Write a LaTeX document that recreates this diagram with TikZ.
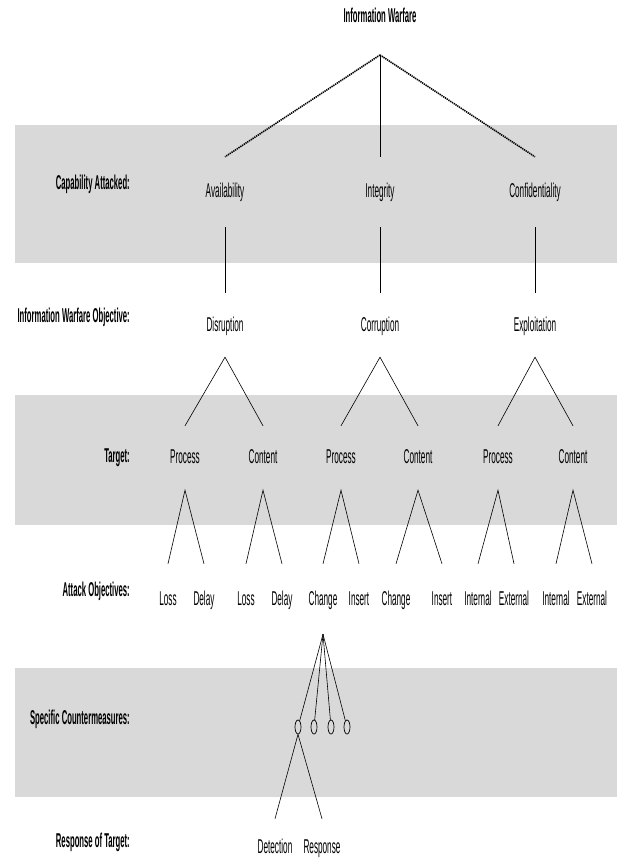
\documentclass[tikz,border=0pt]{standalone}
\usepackage{fontspec}
\setmainfont{Liberation Sans}[FakeStretch=0.41, BoldFeatures={FakeStretch=0.385}]
\usepackage{tikz}
\usetikzlibrary{shapes.geometric}

\tikzset{
  band/.style={fill=black!15, draw=none},
  rowlbl/.style={anchor=east, inner sep=0pt, font=\bfseries\fontsize{20}{22}\selectfont},
  lbl/.style={inner sep=0pt, text height=14pt, text depth=4pt, font=\fontsize{20}{22}\selectfont},
  heavy/.style={line width=1.6pt, dash pattern=on 1.3pt off 0.8pt},
  link/.style={line width=0.6pt},
  cmoval/.style={draw, ellipse, inner sep=0pt, minimum width=6pt, minimum height=14pt, line width=0.7pt},
}

\begin{document}
\begin{tikzpicture}[x=1pt, y=-1pt]
     \useasboundingbox (0,0) rectangle (617,863);
     % grey bands
     \fill [band] (15,125) rectangle (617,263);
     \fill [band] (15,395) rectangle (617,525);
     \fill [band] (15,668) rectangle (617,797);

     % row titles
     \node[rowlbl] (r1) at (130,184) {Capability Attacked:};
     \node[rowlbl] (r2) at (130,317) {Information Warfare Objective:};
     \node[rowlbl] (r3) at (130,458) {Target:};
     \node[rowlbl] (r4) at (130,591) {Attack Objectives:};
     \node[rowlbl] (r5) at (130,719) {Specific Countermeasures:};
     \node[rowlbl] (r6) at (130,842) {Response of Target:};

     % tree
     \node[lbl, font=\bfseries\fontsize{20}{22}\selectfont] (iw) at (380,17) {Information Warfare};
     \coordinate (iw-v) at (380,55);

     \node[lbl] (avail) at (225,192) {Availability};
     \node[lbl] (integ) at (380,192) {Integrity};
     \node[lbl] (conf) at (535,192) {Confidentiality};

     \draw[heavy] (iw-v) -- ([yshift=26pt]avail.north);
     \draw[link] (iw-v) -- ([yshift=26pt]integ.north);
     \draw[heavy] (iw-v) -- ([yshift=26pt]conf.north);

     \node[lbl] (disr) at (225,326) {Disruption};
     \node[lbl] (corr) at (380,326) {Corruption};
     \node[lbl] (expl) at (535,326) {Exploitation};

     \draw[link, shorten <=26pt, shorten >=24pt] (avail) -- (disr);
     \draw[link, shorten <=26pt, shorten >=24pt] (integ) -- (corr);
     \draw[link, shorten <=26pt, shorten >=24pt] (conf) -- (expl);

     \node[lbl] (procA) at (185,458) {Process};
     \node[lbl] (contA) at (263,458) {Content};
     \node[lbl] (procB) at (341,458) {Process};
     \node[lbl] (contB) at (418,458) {Content};
     \node[lbl] (procC) at (498,458) {Process};
     \node[lbl] (contC) at (573,458) {Content};

     \coordinate (disr-v) at ([yshift=-22pt]disr.south);
     \coordinate (corr-v) at ([yshift=-22pt]corr.south);
     \coordinate (expl-v) at ([yshift=-22pt]expl.south);
     \draw[link] ([yshift=23pt]procA.north) -- (disr-v) -- ([yshift=23pt]contA.north);
     \draw[link] ([yshift=23pt]procB.north) -- (corr-v) -- ([yshift=23pt]contB.north);
     \draw[link] ([yshift=23pt]procC.north) -- (expl-v) -- ([yshift=23pt]contC.north);

     \node[lbl] (lossA) at (168,600) {Loss};
     \node[lbl] (delayA) at (204,600) {Delay};
     \node[lbl] (lossB) at (246,600) {Loss};
     \node[lbl] (delayB) at (282,600) {Delay};
     \node[lbl] (chgA) at (323,600) {Change};
     \node[lbl] (insA) at (359,600) {Insert};
     \node[lbl] (chgB) at (396,600) {Change};
     \node[lbl] (insB) at (442,600) {Insert};
     \node[lbl] (intA) at (478,600) {Internal};
     \node[lbl] (extA) at (514,600) {External};
     \node[lbl] (intB) at (556,600) {Internal};
     \node[lbl] (extB) at (592,600) {External};

     \coordinate (procA-v) at ([yshift=-23pt]procA.south);
     \coordinate (contA-v) at ([yshift=-23pt]contA.south);
     \coordinate (procB-v) at ([yshift=-23pt]procB.south);
     \coordinate (contB-v) at ([yshift=-23pt]contB.south);
     \coordinate (procC-v) at ([yshift=-23pt]procC.south);
     \coordinate (contC-v) at ([yshift=-23pt]contC.south);
     \draw[link] ([yshift=27pt]lossA.north) -- (procA-v) -- ([yshift=27pt]delayA.north);
     \draw[link] ([yshift=27pt]lossB.north) -- (contA-v) -- ([yshift=27pt]delayB.north);
     \draw[link] ([yshift=27pt]chgA.north) -- (procB-v) -- ([yshift=27pt]insA.north);
     \draw[link] ([yshift=27pt]chgB.north) -- (contB-v) -- ([yshift=27pt]insB.north);
     \draw[link] ([yshift=27pt]intA.north) -- (procC-v) -- ([yshift=27pt]extA.north);
     \draw[link] ([yshift=27pt]intB.north) -- (contC-v) -- ([yshift=27pt]extB.north);

     % countermeasures under Change
     \coordinate (chgA-v) at ([yshift=-25pt]chgA.south);
     \node[cmoval] (cm1) at (298,727) {};
     \node[cmoval] (cm2) at (314,727) {};
     \node[cmoval] (cm3) at (331,727) {};
     \node[cmoval] (cm4) at (347,727) {};
     \draw[link] (chgA-v) -- (cm1);
     \draw[link] (chgA-v) -- (cm2);
     \draw[link] (chgA-v) -- (cm3);
     \draw[link] (chgA-v) -- (cm4);

     \node[lbl] (det) at (275,848) {Detection};
     \node[lbl] (resp) at (322,848) {Response};
     \draw[link] ([yshift=20pt]det.north) -- (cm1.south) -- ([yshift=20pt]resp.north);
\end{tikzpicture}
\end{document}
